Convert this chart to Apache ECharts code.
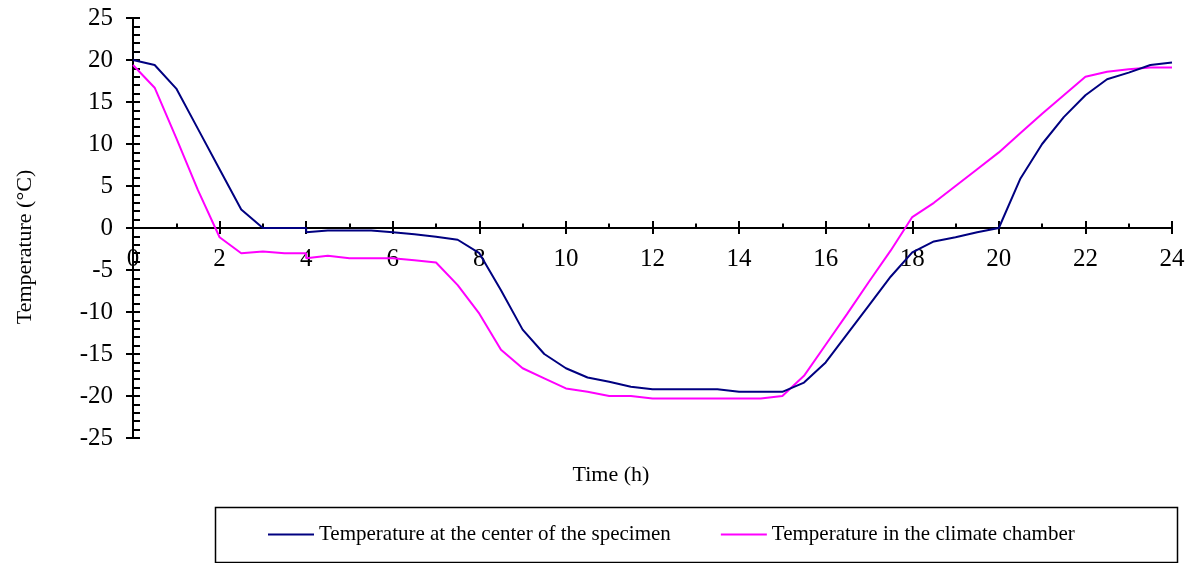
<!DOCTYPE html>
<html>
<head>
<meta charset="utf-8">
<script src="https://cdn.jsdelivr.net/npm/echarts@6/dist/echarts.min.js"></script>
<style>
  html, body { margin: 0; padding: 0; background: #ffffff; }
  #chart { width: 1198px; height: 563px; }
</style>
</head>
<body>
<div id="chart"></div>
<script>
// Sampling times (h); t = 4 appears twice where both curves step down
const hours = [0, 0.5, 1, 1.5, 2, 2.5, 3, 3.5, 4, 4, 4.5, 5, 5.5, 6, 6.5, 7, 7.5, 8, 8.5, 9, 9.5,
  10, 10.5, 11, 11.5, 12, 12.5, 13, 13.5, 14, 14.5, 15, 15.5, 16, 16.5, 17, 17.5, 18, 18.5,
  19, 19.5, 20, 20.5, 21, 21.5, 22, 22.5, 23, 23.5, 24];

// Temperature at the center of the specimen (°C)
const specimenTemp = [20, 19.4, 16.6, 11.8, 7.0, 2.2, 0, 0, 0, -0.5, -0.3, -0.3, -0.3, -0.5, -0.75, -1.05, -1.4,
  -3.0, -7.4, -12.1, -15.0, -16.7, -17.8, -18.3, -18.9, -19.2, -19.2, -19.2, -19.2, -19.5, -19.5,
  -19.5, -18.4, -16.0, -12.6, -9.2, -5.8, -2.9, -1.6, -1.1, -0.5, 0, 5.9, 10.0, 13.2, 15.8,
  17.7, 18.5, 19.4, 19.7];

// Temperature in the climate chamber (°C)
const chamberTemp = [19.4, 16.7, 10.7, 4.5, -1.1, -3.0, -2.8, -3.0, -3.0, -3.6, -3.3, -3.6, -3.6, -3.6, -3.85, -4.1,
  -6.8, -10.2, -14.5, -16.7, -17.9, -19.1, -19.5, -20.0, -20.0, -20.3, -20.3, -20.3, -20.3, -20.3,
  -20.3, -20.0, -17.6, -13.9, -10.2, -6.4, -2.7, 1.3, 3.0, 5.0, 7.0, 9.0, 11.3, 13.6, 15.8, 18.0,
  18.6, 18.9, 19.1, 19.1];

const seriesNames = ['Temperature at the center of the specimen', 'Temperature in the climate chamber'];
const seriesColors = ['#000080', '#ff00ff'];
const xName = 'Time (h)';
const yName = 'Temperature (°C)';

const FONT = '"Liberation Serif", "Times New Roman", serif';

// plot box: 420 px tall, so the 0 °C line sits 210 px above the bottom edge
const GRID = { left: 133, right: 26, top: 18, bottom: 125 };
const ZERO_SHIFT = -210;

const pairs = vals => hours.map((h, i) => [h, vals[i]]);

const chart = echarts.init(document.getElementById('chart'), null, { renderer: 'canvas' });

// the time axis is drawn across the 0 °C line (shifted up from the bottom edge)
const xBase = {
  type: 'value', min: 0, max: 24, interval: 2, position: 'bottom',
  offset: ZERO_SHIFT,
  splitLine: { show: false },
  axisLine: { onZero: false, lineStyle: { color: '#000', width: 2 } }
};
const yBase = {
  type: 'value', min: -25, max: 25, interval: 5, position: 'left',
  splitLine: { show: false },
  axisLine: { onZero: false, lineStyle: { color: '#000', width: 2 } }
};

chart.setOption({
  backgroundColor: '#ffffff',
  animation: false,
  grid: Object.assign({ containLabel: false }, GRID),
  xAxis: [
    Object.assign({}, xBase, {
      axisTick: { show: true, inside: false, length: 6, lineStyle: { color: '#000', width: 2 } },
      axisLabel: { color: '#000', fontFamily: FONT, fontSize: 25, margin: 19 }
    }),
    Object.assign({}, xBase, {
      axisLine: { show: false, onZero: false },
      axisTick: { show: true, inside: true, length: 7, lineStyle: { color: '#000', width: 2 } },
      minorTick: { show: true, splitNumber: 2, length: 4.5, lineStyle: { color: '#000', width: 2 } },
      axisLabel: { show: false }
    })
  ],
  yAxis: [
    Object.assign({}, yBase, {
      axisTick: { show: true, inside: false, length: 7, lineStyle: { color: '#000', width: 2 } },
      axisLabel: { color: '#000', fontFamily: FONT, fontSize: 25, margin: 20 }
    }),
    Object.assign({}, yBase, {
      axisLine: { show: false, onZero: false },
      axisTick: { show: true, inside: true, length: 7, lineStyle: { color: '#000', width: 2 } },
      minorTick: { show: true, splitNumber: 5, length: 7, lineStyle: { color: '#000', width: 2 } },
      axisLabel: { show: false }
    })
  ],
  legend: {
    left: 263, top: 519,
    itemWidth: 46, itemHeight: 14, itemGap: 50,
    icon: 'path://M0,6 L46,6 L46,8 L0,8 Z',
    textStyle: { color: '#000', fontFamily: FONT, fontSize: 21 },
    data: seriesNames
  },
  graphic: [
    {
      type: 'rect', left: 213, top: 505,
      shape: { width: 962, height: 55 },
      style: { fill: 'none', stroke: '#000', lineWidth: 1.5 }
    },
    {
      type: 'text', x: 25, y: 247, rotation: Math.PI / 2,
      style: { text: yName, font: '22px ' + FONT, fill: '#000',
               align: 'center', verticalAlign: 'middle', textAlign: 'center', textVerticalAlign: 'middle' }
    },
    {
      type: 'text', x: 611, y: 475,
      style: { text: xName, font: '22px ' + FONT, fill: '#000',
               align: 'center', verticalAlign: 'middle', textAlign: 'center', textVerticalAlign: 'middle' }
    }
  ],
  series: [
    {
      name: seriesNames[0], type: 'line', xAxisIndex: 0, yAxisIndex: 0,
      data: pairs(specimenTemp), showSymbol: false, symbol: 'none',
      itemStyle: { color: seriesColors[0] },
      lineStyle: { color: seriesColors[0], width: 2 }, z: 3
    },
    {
      name: seriesNames[1], type: 'line', xAxisIndex: 0, yAxisIndex: 0,
      data: pairs(chamberTemp), showSymbol: false, symbol: 'none',
      itemStyle: { color: seriesColors[1] },
      lineStyle: { color: seriesColors[1], width: 2 }, z: 2
    }
  ]
});
</script>
</body>
</html>
